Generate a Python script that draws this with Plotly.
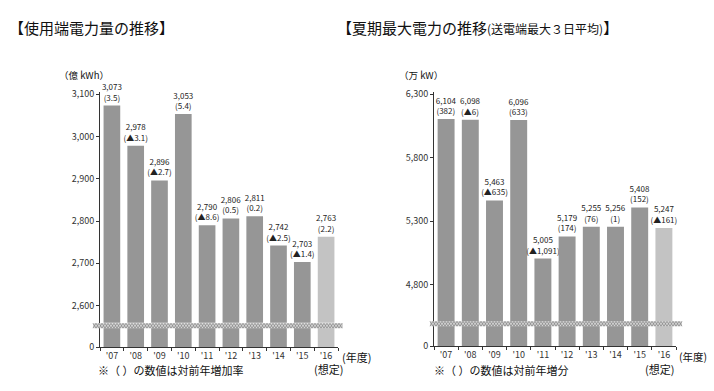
import plotly.graph_objects as go

W, H = 714, 391

years = ["'07", "'08", "'09", "'10", "'11", "'12", "'13", "'14", "'15", "'16"]

energy_vals = [3073, 2978, 2896, 3053, 2790, 2806, 2811, 2742, 2703, 2763]
energy_chg = ["3.5", "▲3.1", "▲2.7", "5.4", "▲8.6", "0.5", "0.2", "▲2.5", "▲1.4", "2.2"]

peak_vals = [6104, 6098, 5463, 6096, 5005, 5179, 5255, 5256, 5408, 5247]
peak_chg = ["382", "▲6", "▲635", "633", "▲1,091", "174", "76", "1", "152", "▲161"]

energy_ticks = [2600, 2700, 2800, 2900, 3000, 3100]
peak_ticks = [4800, 5300, 5800, 6300]

FONT = "Noto Sans CJK JP"
DARK = "#969696"
LIGHT = "#c3c3c3"
colors = [DARK] * 9 + [LIGHT]


def px(x):
    return x / W


def py(y):
    return 1 - y / H


def labels(vals, chg):
    return [f"{v:,}<br>({c})" for v, c in zip(vals, chg)]


fig = go.Figure()

for xa, ylow, yup, vals, chg in [
    ("x", "y", "y2", energy_vals, energy_chg),
    ("x2", "y3", "y4", peak_vals, peak_chg),
]:
    fig.add_trace(go.Bar(x=years, y=vals, xaxis=xa, yaxis=ylow, width=0.7,
                         marker=dict(color=colors, line=dict(width=0)),
                         hoverinfo="skip", showlegend=False))
    fig.add_trace(go.Bar(x=years, y=vals, xaxis=xa, yaxis=yup, width=0.7,
                         marker=dict(color=colors, line=dict(width=0)),
                         text=labels(vals, chg), textposition="outside",
                         constraintext="none", cliponaxis=False,
                         textfont=dict(family=FONT, size=8, color="#222"),
                         showlegend=False))

tickfont = dict(family=FONT, size=9, color="#333")
axis_line = dict(showline=True, linecolor="#333", linewidth=1, showgrid=False,
                 zeroline=False, ticks="outside", ticklen=3, tickcolor="#333",
                 tickfont=tickfont)


def rng(top_val, top_px, scale, y_lo_px, y_hi_px):
    hi = top_val + (top_px - y_hi_px) / scale
    lo = top_val - (y_lo_px - top_px) / scale
    return [lo, hi]


fig.update_layout(
    width=W, height=H, margin=dict(l=0, r=0, t=0, b=0),
    plot_bgcolor="white", paper_bgcolor="white",
    font=dict(family=FONT, color="#222"),
    xaxis=dict(domain=[px(100), px(338)], anchor="y", type="category",
               tickson="boundaries", **axis_line),
    yaxis=dict(domain=[py(352), py(332)], range=[0, 46], tickvals=[0],
               anchor="x", **axis_line),
    yaxis2=dict(domain=[py(327), py(90)], range=rng(3100, 91.7, 0.4352, 327, 90),
                tickvals=energy_ticks, tickformat=",", anchor="x", **axis_line),
    xaxis2=dict(domain=[px(434), px(676)], anchor="y3", type="category",
                tickson="boundaries", **axis_line),
    yaxis3=dict(domain=[py(351), py(330)], range=[0, 160], tickvals=[0],
                anchor="x2", **axis_line),
    yaxis4=dict(domain=[py(326), py(90)], range=rng(6300, 91.7, 0.1307, 326, 90),
                tickvals=peak_ticks, tickformat=",", anchor="x2", **axis_line),
)


def zigzag(x0, x1, y0, y1, step=3.0, phase=0):
    pts = []
    x = x0
    i = phase
    while x <= x1:
        pts.append((x, y0 if i % 2 == 0 else y1))
        x += step
        i += 1
    return "M " + " L ".join(f"{px(a):.5f},{py(b):.5f}" for a, b in pts)


for x0, x1, yt, yb in [(93, 343, 327.5, 332.5), (430, 682, 325.5, 330.5)]:
    fig.add_shape(type="rect", xref="paper", yref="paper",
                  x0=px(x0), x1=px(x1), y0=py(yb), y1=py(yt),
                  fillcolor="#d6d6d6", line=dict(width=0), layer="above")
    for ph in (0, 1):
        fig.add_shape(type="path", xref="paper", yref="paper",
                      path=zigzag(x0, x1, yt, yb, 3.0, ph),
                      line=dict(color="#8a8a8a", width=0.8), layer="above")


def ann(text, x, y, size, xanchor="left", color="#111"):
    fig.add_annotation(text=text, x=px(x), y=py(y), xref="paper", yref="paper",
                       xanchor=xanchor, yanchor="middle", showarrow=False,
                       borderpad=0,
                       font=dict(family=FONT, size=size, color=color))


ann("【使用端電力量の推移】", 8, 23, 15)
ann("【夏期最大電力の推移<span style='font-size:12px'>(送電端最大３日平均)</span>】", 336, 23, 15)
ann("（億 kWh）", 58, 72, 9.5)
ann("（万 kW）", 398, 72, 9.5)
ann("(年度)", 341, 362, 11)
ann("(年度)", 708, 362, 10.5, "right")
ann("(想定)", 328, 375, 11, "center")
ann("(想定)", 659, 375, 11, "center")
ann("※（ ）の数値は対前年増加率", 97, 376, 11)
ann("※（ ）の数値は対前年増分", 433, 376, 11)

fig.write_html(
    "out.html",
    config={"displayModeBar": False},
    post_script="document.body.style.margin='0';document.body.style.overflow='hidden';",
)
